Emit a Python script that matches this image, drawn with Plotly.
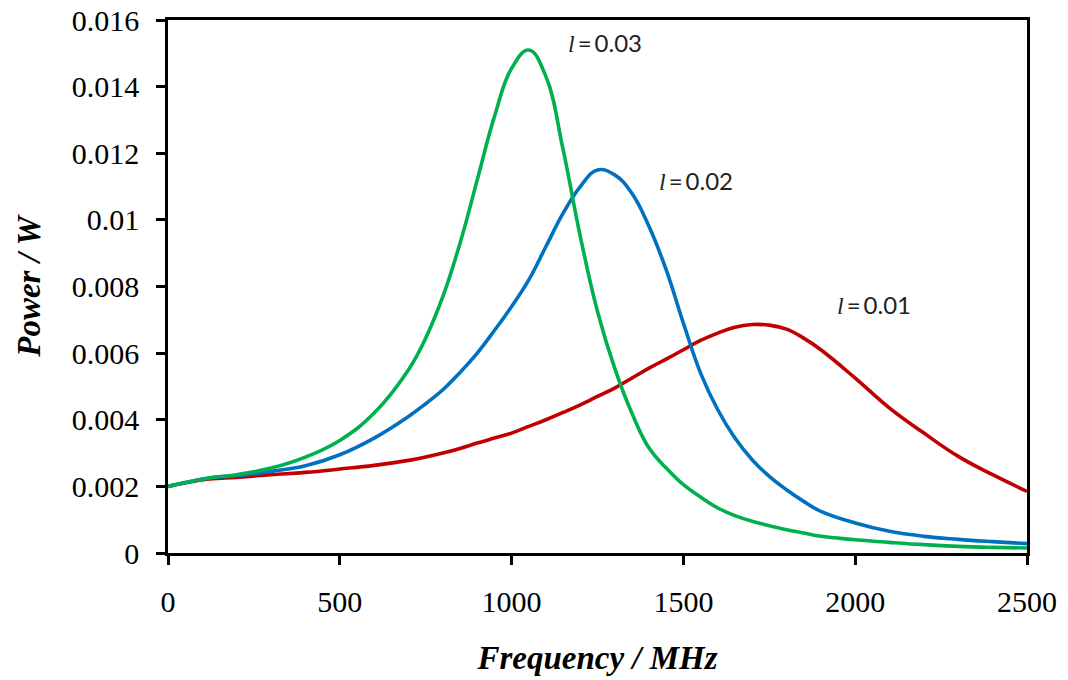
import plotly.graph_objects as go

# Frequency sweep (MHz) and absorbed power (mW before scaling) for three values of l
freq = [0, 120, 200, 300, 400, 500, 600, 700, 750, 800, 850, 900, 950, 1000,
        1050, 1100, 1150, 1200, 1250, 1300, 1350, 1400, 1450, 1500, 1550, 1600,
        1650, 1700, 1750, 1800, 1850, 1900, 2000, 2100, 2200, 2300, 2400, 2500]

power_l003 = [2.00, 2.25, 2.35, 2.55, 2.88, 3.38, 4.20, 5.50, 6.45, 7.70, 9.30,
              11.20, 13.10, 14.55, 15.10, 14.30, 12.10, 9.50, 7.25, 5.55, 4.20,
              3.15, 2.55, 2.05, 1.68, 1.35, 1.12, 0.95, 0.82, 0.70, 0.60, 0.50,
              0.40, 0.32, 0.25, 0.20, 0.17, 0.15]

power_l002 = [2.00, 2.25, 2.32, 2.45, 2.62, 2.95, 3.45, 4.10, 4.48, 4.90, 5.42,
              6.00, 6.68, 7.40, 8.20, 9.20, 10.20, 11.00, 11.50, 11.35, 10.80,
              9.80, 8.50, 6.90, 5.40, 4.30, 3.45, 2.80, 2.30, 1.90, 1.55, 1.25,
              0.90, 0.65, 0.50, 0.41, 0.34, 0.28]

power_l001 = [2.00, 2.22, 2.27, 2.35, 2.42, 2.52, 2.63, 2.78, 2.88, 3.00, 3.14,
              3.30, 3.45, 3.60, 3.80, 4.00, 4.22, 4.45, 4.70, 4.95, 5.25, 5.55,
              5.82, 6.10, 6.38, 6.60, 6.78, 6.86, 6.84, 6.72, 6.45, 6.10, 5.25,
              4.35, 3.60, 2.90, 2.35, 1.85]

series = [
    ("l = 0.01", power_l001, "#C00000"),
    ("l = 0.02", power_l002, "#0070C0"),
    ("l = 0.03", power_l003, "#00B050"),
]

y_ticks = [0, 0.002, 0.004, 0.006, 0.008, 0.01, 0.012, 0.014, 0.016]
y_tick_text = ["0", "0.002", "0.004", "0.006", "0.008", "0.01", "0.012", "0.014", "0.016"]
x_ticks = [0, 500, 1000, 1500, 2000, 2500]

# Curve labels: (value of l, x position in MHz, y position in W)
labels = [("0.03", 1272, 0.01532), ("0.02", 1537, 0.01118), ("0.01", 2055, 0.00746)]

fig = go.Figure()
for name, vals, color in series:
    fig.add_trace(go.Scatter(
        x=freq, y=[v * 1e-3 for v in vals], mode="lines", name=name,
        line=dict(color=color, width=3.6, shape="spline", smoothing=1.2),
    ))

for val, xx, yy in labels:
    fig.add_annotation(
        x=xx, y=yy, xref="x", yref="y", showarrow=False,
        text=f"<span style='font-family:Liberation Serif'><i>l</i></span>\u2009=\u2009{val}",
        font=dict(family="Lato, Liberation Sans", size=24, color="#222222"),
    )

axis_font = dict(family="Liberation Serif, Times New Roman", size=30, color="black")
title_font = dict(family="Liberation Serif, Times New Roman", size=33, color="black")

fig.update_layout(
    width=1068, height=680,
    margin=dict(l=168, r=41, t=20, b=127),
    paper_bgcolor="white", plot_bgcolor="white",
    showlegend=False,
    xaxis=dict(
        range=[0, 2500], tickvals=x_ticks, tickfont=axis_font, automargin=False,
        ticks="outside", ticklen=9, tickwidth=2.5, tickcolor="black",
        showline=True, linewidth=2.5, linecolor="black", mirror=True,
        showgrid=False, zeroline=False, ticklabelstandoff=11,
        title=dict(text="<b><i>Frequency / MHz</i></b>", font=title_font, standoff=30),
    ),
    yaxis=dict(
        range=[0, 0.016], tickvals=y_ticks, ticktext=y_tick_text, tickfont=axis_font,
        automargin=False,
        ticks="outside", ticklen=9, tickwidth=2.5, tickcolor="black",
        showline=True, linewidth=2.5, linecolor="black", mirror=True,
        showgrid=False, zeroline=False, ticklabelstandoff=11,
        title=dict(text="<b><i>Power / W</i></b>", font=title_font, standoff=22),
    ),
)

fig.write_html("out.html")
